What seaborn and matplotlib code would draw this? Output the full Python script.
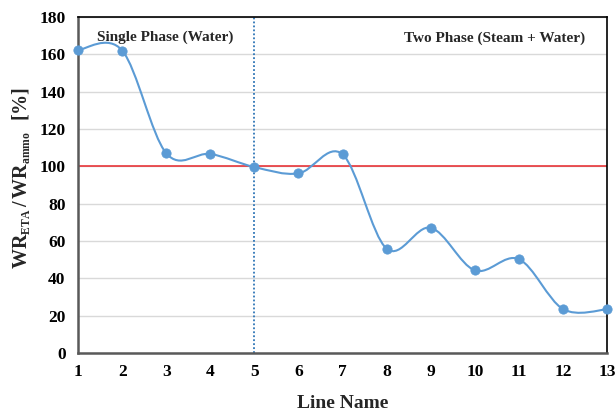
import numpy as np
import pandas as pd
import matplotlib
matplotlib.use("Agg")
import matplotlib.pyplot as plt
import matplotlib._mathtext as _mt
from matplotlib.path import Path
from matplotlib.patches import PathPatch
import seaborn as sns

line_names = [1, 2, 3, 4, 5, 6, 7, 8, 9, 10, 11, 12, 13]
ratio = [162.3, 162.0, 107.0, 106.6, 99.6, 96.2, 106.4, 55.9, 67.1, 44.3, 50.3, 23.6, 23.4]
x_ticks = [1, 2, 3, 4, 5, 6, 7, 8, 9, 10, 11, 12, 13]
y_ticks = [0, 20, 40, 60, 80, 100, 120, 140, 160, 180]
reference_level = 100
phase_boundary = 5
label_single = "Single Phase (Water)"
label_two = "Two Phase (Steam + Water)"

sns.set_theme(style="white")
plt.rcParams['font.family'] = ['Liberation Serif', 'DejaVu Serif']
plt.rcParams['font.weight'] = 'bold'
plt.rcParams['mathtext.fontset'] = 'custom'
plt.rcParams['mathtext.rm'] = 'Liberation Serif:bold'
plt.rcParams['mathtext.bf'] = 'Liberation Serif:bold'
plt.rcParams['mathtext.it'] = 'Liberation Serif:bold'
_mt.SHRINK_FACTOR = 0.58

df = pd.DataFrame({"line": line_names, "ratio": ratio})

fig = plt.figure(figsize=(6.15, 4.12), dpi=100)
ax = fig.add_axes([0.127, 0.143, 0.860, 0.816])

ax.set_xlim(1, 13)
ax.set_ylim(0, 180)
ax.set_yticks(y_ticks)
ax.set_xticks(x_ticks)
ax.yaxis.grid(True, color="#d9d9d9", linewidth=1.0)
ax.xaxis.grid(False)
ax.set_axisbelow(True)

# Smoothed (Excel-like) curve built from the data through Bezier segments
xs = np.array(line_names, dtype=float)
ys = np.array(ratio, dtype=float)
n = len(xs)
verts = [(xs[0], ys[0])]
codes = [Path.MOVETO]
for i in range(n - 1):
    p0 = np.array([xs[max(i - 1, 0)], ys[max(i - 1, 0)]])
    p1 = np.array([xs[i], ys[i]])
    p2 = np.array([xs[i + 1], ys[i + 1]])
    p3 = np.array([xs[min(i + 2, n - 1)], ys[min(i + 2, n - 1)]])
    c1 = p1 + (p2 - p0) / 6.0
    c2 = p2 - (p3 - p1) / 6.0
    verts += [tuple(c1), tuple(c2), tuple(p2)]
    codes += [Path.CURVE4] * 3
patch = PathPatch(Path(verts, codes), facecolor="none", edgecolor="#5b9bd5",
                  linewidth=1.5, zorder=3, clip_on=False)
ax.add_patch(patch)

sns.scatterplot(data=df, x="line", y="ratio", ax=ax, color="#5b9bd5", s=45,
                edgecolor="#5b9bd5", zorder=4, clip_on=False, legend=False)

ax.axhline(reference_level, color="#e8262a", linewidth=1.1, zorder=2)
ax.axvline(phase_boundary, color="#2e75b6", linewidth=1.3, linestyle=(0, (1, 1.2)), zorder=2)

ax.text(1.43, 169, label_single, fontsize=11, fontweight="bold", ha="left", va="center")
ax.text(12.5, 168.5, label_two, fontsize=11, fontweight="bold", ha="right", va="center")

for side in ["left", "bottom"]:
    ax.spines[side].set_color("#595959")
    ax.spines[side].set_linewidth(1.8)
for side in ["top", "right"]:
    ax.spines[side].set_color("#000000")
    ax.spines[side].set_linewidth(1.2)

ax.tick_params(axis="both", length=0, labelsize=12.5, colors="#000000")
ax.tick_params(axis="y", pad=9)
ax.tick_params(axis="x", pad=8)
for lbl in ax.get_xticklabels() + ax.get_yticklabels():
    lbl.set_fontweight("bold")

ax.set_xlabel("Line Name", fontsize=14, fontweight="bold", labelpad=11)
ax.set_ylabel(r"$\mathrm{WR_{ETA}\,/\,WR_{ammo}\ \ [\%]}$", fontsize=14.5, labelpad=5)
ax.yaxis.set_label_coords(-0.088, 0.52)

fig.savefig("out.png", dpi=100)
